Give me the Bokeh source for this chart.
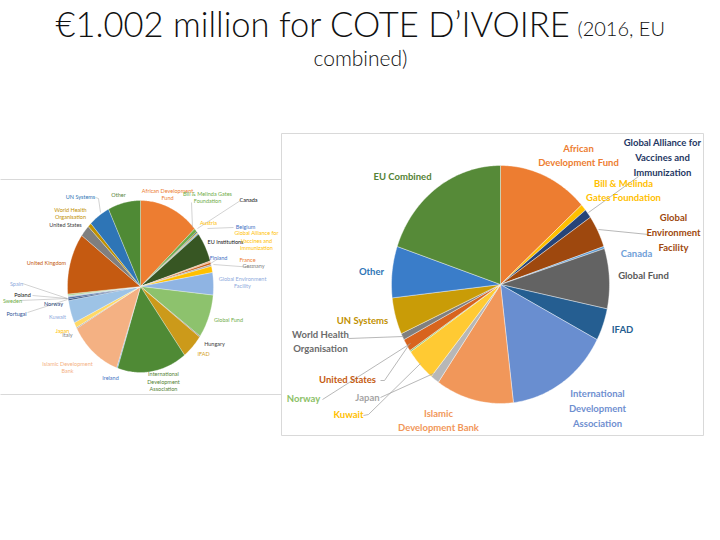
import numpy as np
from bokeh.plotting import figure
from bokeh.models import Range1d, ColumnDataSource, Label
from bokeh.core.properties import value
from bokeh.embed import file_html
from bokeh.resources import INLINE

# ---------------- data ----------------
# Right pie (EU combined), clockwise from 12 o'clock, share in %
right_names = ["African Development Fund", "Bill & Melinda Gates Foundation",
               "Global Alliance for Vaccines and Immunization", "Global Environment Facility",
               "Canada", "Global Fund", "IFAD", "International Development Association",
               "Islamic Development Bank", "Japan", "Kuwait", "Norway", "United States",
               "World Health Organisation", "UN Systems", "Other", "EU Combined"]
right_values = [13.4, 0.9, 1.2, 4.4, 0.3, 8.2, 4.4, 15.5, 11.6, 1.3, 4.5, 0.2, 1.7, 0.9, 5.0, 7.0, 19.9]
right_labels = ["African\nDevelopment Fund", "Bill & Melinda\nGates Foundation",
                "Global Alliance for\nVaccines and\nImmunization", "Global\nEnvironment\nFacility",
                "Canada", "Global Fund", "IFAD", "International\nDevelopment\nAssociation",
                "Islamic\nDevelopment Bank", "Japan", "Kuwait", "Norway", "United States",
                "World Health\nOrganisation", "UN Systems", "Other", "EU Combined"]

# Left pie (EU members separately), clockwise from 12 o'clock, share in %
left_names = ["African Development Fund", "Bill & Melinda Gates Foundation", "Canada", "Austria",
              "Belgium", "EU Institutions", "Finland", "France", "Germany",
              "Global Alliance for Vaccines and Immunization", "Global Environment Facility",
              "Global Fund", "Hungary", "IFAD", "International Development Association", "Ireland",
              "Islamic Development Bank", "Italy", "Japan", "Kuwait", "Norway", "Portugal", "Poland",
              "Spain", "Sweden", "United Kingdom", "United States", "World Health Organisation",
              "UN Systems", "Other"]
left_values = [13.3, 0.7, 0.2, 0.2, 0.2, 5.6, 0.3, 0.4, 0.3, 1.2, 4.2, 8.2, 0.2, 4.7, 15.4, 0.2,
               11.6, 0.2, 1.0, 4.3, 0.3, 0.3, 0.1, 0.2, 0.3, 11.5, 2.2, 0.8, 4.7, 7.2]
left_labels = ["African Development\nFund", "Bill & Melinda Gates\nFoundation", "Canada", "Austria",
               "Belgium", "EU Institutions", "Finland", "France", "Germany",
               "Global Alliance for\nVaccines and\nImmunization", "Global Environment\nFacility",
               "Global Fund", "Hungary", "IFAD", "International\nDevelopment\nAssociation", "Ireland",
               "Islamic Development\nBank", "Italy", "Japan", "Kuwait", "Norway", "Portugal", "Poland",
               "Spain", "Sweden", "United Kingdom", "United States", "World Health\nOrganisation",
               "UN Systems", "Other"]

title_main = "€1.002 million for COTE D’IVOIRE"
title_sub1 = "(2016, EU"
title_sub2 = "combined)"

# ---------------- styles / layout ----------------
right_colors = ["#ED7D31", "#FFC000", "#264478", "#9E480E", "#5B9BD5", "#636363", "#255E91",
                "#698ED0", "#F1975A", "#B7B7B7", "#FFCA33", "#8CC168", "#D8641E", "#7F7F7F",
                "#C99C07", "#3A7DC9", "#568A38"]
right_text_colors = ["#ED7D31", "#FFC000", "#1F3864", "#9E480E", "#6FA0D8", "#595959", "#255E91",
                     "#6F8FD0", "#F1975A", "#A5A5A5", "#FFC000", "#8CC168", "#C55A11", "#6B6B6B",
                     "#BF9000", "#2E75B6", "#548235"]
right_pos = {"African Development Fund": (578, 155), "Bill & Melinda Gates Foundation": (623, 190),
             "Global Alliance for Vaccines and Immunization": (662, 157),
             "Global Environment Facility": (673, 232), "Canada": (636, 253), "Global Fund": (643, 275),
             "IFAD": (622, 329), "International Development Association": (597, 408),
             "Islamic Development Bank": (438, 420), "Japan": (367, 397), "Kuwait": (348, 414),
             "Norway": (303, 398), "United States": (347, 379), "World Health Organisation": (320, 341),
             "UN Systems": (362, 320), "Other": (371, 271), "EU Combined": (402, 176)}

left_colors = ["#ED7D31", "#70AD47", "#264478", "#FFC000", "#5B9BD5", "#375623", "#F4B183",
               "#C55A11", "#A5A5A5", "#FFC000", "#8FB4E3", "#8DC26D", "#7F7F7F", "#CC9A1A",
               "#4F8A35", "#5B9BD5", "#F4B183", "#A5A5A5", "#FFD966", "#9DC3E6", "#264478",
               "#2F5597", "#333333", "#9DC3E6", "#A9D18E", "#C55A11", "#7F7F7F", "#BF9000",
               "#2E75B6", "#4F8A35"]
left_text_colors = ["#ED7D31", "#70AD47", "#111111", "#FFC000", "#4472C4", "#111111", "#4472C4",
                    "#ED7D31", "#7F7F7F", "#FFC000", "#8FAADC", "#70AD47", "#404040", "#D4A017",
                    "#548235", "#4472C4", "#F4B183", "#7F7F7F", "#FFC000", "#8FAADC", "#264478",
                    "#2F5597", "#111111", "#8FAADC", "#70AD47", "#C55A11", "#404040", "#BF9000",
                    "#2E75B6", "#548235"]
left_pos = {"African Development Fund": (167, 194), "Bill & Melinda Gates Foundation": (207, 197),
            "Canada": (248, 199), "Austria": (208, 222), "Belgium": (245, 226),
            "EU Institutions": (225, 241), "Finland": (218, 257), "France": (247, 259),
            "Germany": (253, 265), "Global Alliance for Vaccines and Immunization": (256, 240),
            "Global Environment Facility": (242, 282), "Global Fund": (228, 319), "Hungary": (214, 343),
            "IFAD": (203, 353), "International Development Association": (163, 381), "Ireland": (110, 377),
            "Islamic Development Bank": (67, 367), "Italy": (67, 334), "Japan": (62, 330),
            "Kuwait": (57, 316), "Norway": (53, 303), "Portugal": (16, 313), "Poland": (22, 294),
            "Spain": (16, 283), "Sweden": (12, 300), "United Kingdom": (46, 262),
            "United States": (65, 224), "World Health Organisation": (70, 213),
            "UN Systems": (80, 196), "Other": (118, 194)}

FONT = "Lato"
TITLE_FONT = "'Lato Light', Lato"

p = figure(width=704, height=524, x_range=Range1d(0, 704), y_range=Range1d(524, 0),
           output_backend="svg", toolbar_location=None, min_border=0,
           x_axis_location=None, y_axis_location=None)
p.grid.visible = False
p.outline_line_color = None
p.background_fill_color = "white"
p.border_fill_color = "white"


def pie_polys(values, cx, cy, rx, ry):
    total = float(sum(values))
    xs, ys = [], []
    cum = 0.0
    for v in values:
        a0 = cum / total * 2 * np.pi
        a1 = (cum + v) / total * 2 * np.pi
        n = max(4, int((a1 - a0) / (2 * np.pi) * 400))
        t = np.linspace(a0, a1, n)
        xs.append([cx] + list(cx + rx * np.sin(t)))
        ys.append([cy] + list(cy - ry * np.cos(t)))
        cum += v
    return xs, ys


# image frames
p.quad(left=[-10], right=[282], top=[179], bottom=[394], fill_color="white",
       line_color="#D9D9D9", line_width=1)
p.quad(left=[281], right=[703], top=[133], bottom=[435], fill_color="white",
       line_color="#D9D9D9", line_width=1)

# left pie
lxs, lys = pie_polys(left_values, 140, 286, 73, 86)
p.patches(xs=lxs, ys=lys, fill_color=left_colors, line_color="white", line_width=0.3)

# right pie
rxs, rys = pie_polys(right_values, 500, 284, 109, 119)
p.patches(xs=rxs, ys=rys, fill_color=right_colors, line_color="white", line_width=0.4)

# leader lines (right)
r_leaders_x = [[638, 588], [598, 648], [348, 403], [380, 384, 408], [322, 410], [380, 433], [363, 368, 420]]
r_leaders_y = [[176, 212], [229, 234], [338, 336], [380, 380, 345], [399, 343], [397, 373], [415, 414, 363]]
p.multi_line(xs=r_leaders_x, ys=r_leaders_y, line_color="#A6A6A6", line_width=0.8)

# leader lines (left)
l_leaders_x = [[95, 98, 100], [191, 192], [240, 197], [233, 207], [218, 210], [253, 213],
               [22, 67], [32, 67], [20, 67], [27, 67]]
l_leaders_y = [[197, 198, 212], [202, 227], [200, 228], [227, 228], [258, 263], [267, 264],
               [283, 298], [295, 298], [300, 298], [312, 299]]
p.multi_line(xs=l_leaders_x, ys=l_leaders_y, line_color="#A6A6A6", line_width=0.5)

# labels
rsrc = ColumnDataSource(dict(x=[right_pos[n][0] for n in right_names],
                             y=[right_pos[n][1] for n in right_names],
                             text=right_labels, color=right_text_colors))
p.text(x="x", y="y", text="text", source=rsrc, text_color="color",
       text_font=value(FONT), text_font_size="9.5px", text_font_style="bold",
       text_align="center", text_baseline="middle", text_line_height=1.35)

lsrc = ColumnDataSource(dict(x=[left_pos[n][0] for n in left_names],
                             y=[left_pos[n][1] for n in left_names],
                             text=left_labels, color=left_text_colors))
p.text(x="x", y="y", text="text", source=lsrc, text_color="color",
       text_font=value(FONT), text_font_size="5.5px",
       text_align="center", text_baseline="middle", text_line_height=1.25)

# title
p.add_layout(Label(x=55, y=23, text=title_main, text_font=TITLE_FONT, text_font_size="34.5px",
                   text_color="#111111", text_baseline="alphabetic", text_align="left"))
p.add_layout(Label(x=577, y=27, text=title_sub1, text_font=TITLE_FONT, text_font_size="20px",
                   text_color="#111111", text_baseline="alphabetic", text_align="left"))
p.add_layout(Label(x=360, y=57, text=title_sub2, text_font=TITLE_FONT, text_font_size="21px",
                   text_color="#111111", text_baseline="alphabetic", text_align="center"))

open("out.html", "w").write(file_html(p, INLINE))
